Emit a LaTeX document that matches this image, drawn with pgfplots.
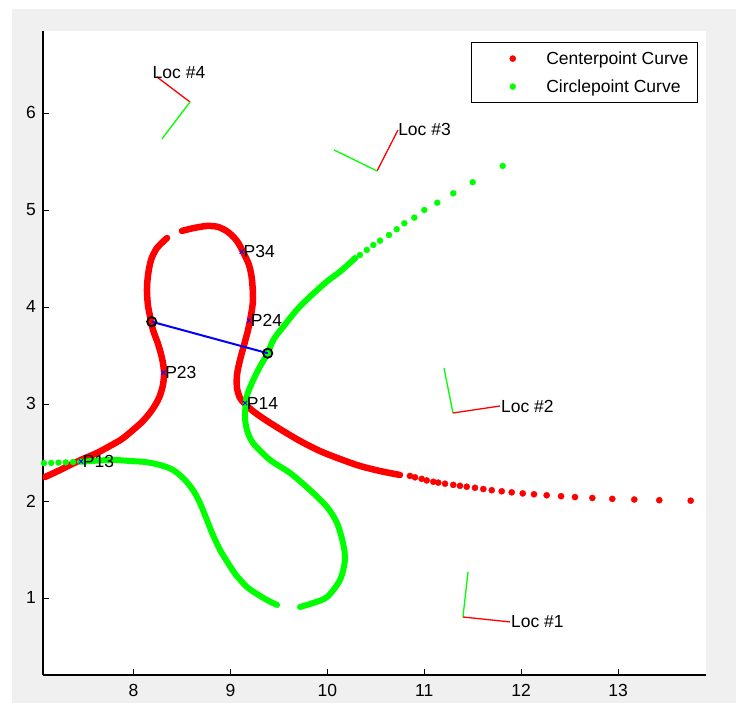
\documentclass[border=0pt]{standalone}
\usepackage{fontspec}
\setmainfont{Liberation Sans}
\usepackage{pgfplots}
\pgfplotsset{compat=1.18}
\definecolor{figgray}{HTML}{F0F0F0}
\newcommand\lbl{\fontsize{17.5bp}{20bp}\selectfont}
\begin{document}
\begin{tikzpicture}
\useasboundingbox (0bp,0bp) rectangle (736bp,703bp);
\fill[white] (0bp,0bp) rectangle (736bp,703bp);
\fill[figgray] (12bp,0bp) rectangle (736bp,694bp);
\begin{axis}[
  at={(43bp,28bp)}, anchor=south west,
  scale only axis, width=663bp, height=644bp,
  xmin=7.065, xmax=13.907, ymin=0.206, ymax=6.845,
  axis background/.style={fill=white},
  axis x line*=bottom, axis y line*=left,
  axis line style={black, line width=1.2bp},
  tick align=inside, major tick length=6bp,
  tick style={black, line width=0.9bp},
  xtick={8,9,10,11,12,13}, ytick={1,2,3,4,5,6},
  /pgf/number format/assume math mode=true,
  tick label style={font=\lbl},
  xticklabel style={inner sep=0pt, yshift=-9bp},
  yticklabel style={inner sep=0pt, xshift=-7bp},
  legend style={at={(0.9879,0.9829)}, anchor=north east, draw=black,
    line width=1.2bp, inner xsep=4.5bp, inner ysep=2bp, fill=white, font=\lbl,
    nodes={inner xsep=4.5bp, inner ysep=0pt, text height=20.25bp, text depth=7.75bp}},
  legend cell align=left,
  legend image code/.code={\path (0bp,0bp) (65bp,0bp); \draw[#1] plot coordinates {(36.5bp,0bp)};},
]
% Centerpoint curve (red) -- dense parts
\addplot[red, line width=6.5bp, smooth, tension=0.5, line cap=round, line join=round, forget plot] coordinates {
(7.086,2.247) (7.220,2.309) (7.344,2.371) (7.478,2.433) (7.622,2.495) (7.756,2.567) (7.880,2.639) (7.994,2.732) (8.097,2.825) (8.190,2.938) (8.262,3.062) (8.303,3.196) (8.314,3.330) (8.293,3.474) (8.252,3.619) (8.200,3.763) (8.180,3.856) (8.149,4.010) (8.138,4.175) (8.149,4.330) (8.180,4.485) (8.241,4.608) (8.345,4.711)};
\addplot[red, line width=6.5bp, smooth, tension=0.5, line cap=round, line join=round, forget plot] coordinates {
(8.499,4.784) (8.623,4.814) (8.757,4.835) (8.871,4.825) (8.974,4.773) (9.067,4.680) (9.129,4.567) (9.191,4.433) (9.222,4.278) (9.232,4.072) (9.212,3.918) (9.181,3.763) (9.140,3.608) (9.098,3.454) (9.067,3.299) (9.067,3.165) (9.098,3.062) (9.150,3.000) (9.243,2.918) (9.377,2.825) (9.542,2.722) (9.717,2.619) (9.923,2.515) (10.130,2.433) (10.336,2.361) (10.542,2.309) (10.749,2.268)};
% Centerpoint curve -- sparse tail
\addplot[only marks, mark=*, mark size=3.1bp, red, mark options={line width=0.3bp}] coordinates {
(10.852,2.258) (10.904,2.244) (10.973,2.228) (11.025,2.212) (11.093,2.198) (11.144,2.189) (11.214,2.178) (11.299,2.166) (11.368,2.156) (11.438,2.147) (11.523,2.136) (11.609,2.123) (11.696,2.111) (11.799,2.100) (11.902,2.089) (12.016,2.078) (12.132,2.069) (12.263,2.059) (12.411,2.049) (12.555,2.040) (12.734,2.031) (12.940,2.022) (13.167,2.015) (13.425,2.008) (13.749,2.003)};
\addlegendentry{Centerpoint Curve}
% Circlepoint curve (green) -- dense parts
\addplot[green, line width=6bp, smooth, tension=0.5, line cap=round, line join=round, forget plot] coordinates {
(10.285,4.502) (10.130,4.364) (9.993,4.261) (9.820,4.106) (9.683,3.969) (9.545,3.797) (9.442,3.660) (9.384,3.523) (9.304,3.385) (9.235,3.247) (9.167,3.075) (9.150,2.869) (9.170,2.732) (9.232,2.598) (9.408,2.423) (9.614,2.289) (9.820,2.113) (9.996,1.938) (10.099,1.773) (10.161,1.567) (10.181,1.392) (10.130,1.186) (9.996,1.010) (9.851,0.948) (9.717,0.907)};
\addplot[green, line width=6bp, smooth, tension=0.5, line cap=round, line join=round, forget plot] coordinates {
(9.480,0.928) (9.377,0.979) (9.274,1.041) (9.170,1.113) (9.057,1.237) (8.974,1.361) (8.892,1.495) (8.819,1.649) (8.757,1.804) (8.685,1.979) (8.613,2.113) (8.520,2.227) (8.407,2.320) (8.272,2.371) (8.118,2.402) (7.963,2.412) (7.808,2.423) (7.653,2.418) (7.498,2.407) (7.447,2.405)};
\addplot[only marks, mark=*, mark size=3bp, green, mark options={line width=0.3bp}, forget plot] coordinates {
(7.375,2.401) (7.300,2.398) (7.225,2.395) (7.150,2.392) (7.075,2.390)};
% Circlepoint curve -- sparse tail
\addplot[only marks, mark=*, mark size=3bp, green, mark options={line width=0.3bp}] coordinates {
(11.809,5.454) (11.499,5.286) (11.299,5.172) (11.134,5.075) (11.000,5.000) (10.897,4.921) (10.794,4.863) (10.715,4.801) (10.636,4.742) (10.543,4.684) (10.474,4.639) (10.406,4.588) (10.336,4.536) (10.285,4.502)};
\addlegendentry{Circlepoint Curve}
% Location frames
\addplot[red, line width=1.3bp, forget plot] coordinates {(8.241,6.371) (8.582,6.113)};
\addplot[green, line width=1.3bp, forget plot] coordinates {(8.582,6.113) (8.293,5.732)};
\addplot[red, line width=1.3bp, forget plot] coordinates {(10.512,5.402) (10.729,5.825)};
\addplot[green, line width=1.3bp, forget plot] coordinates {(10.512,5.402) (10.068,5.619)};
\addplot[green, line width=1.3bp, forget plot] coordinates {(11.203,3.371) (11.296,2.907)};
\addplot[red, line width=1.3bp, forget plot] coordinates {(11.296,2.907) (11.781,2.979)};
\addplot[green, line width=1.3bp, forget plot] coordinates {(11.451,1.268) (11.399,0.804)};
\addplot[red, line width=1.3bp, forget plot] coordinates {(11.399,0.804) (11.884,0.753)};
% Link
\addplot[blue, line width=2bp, forget plot] coordinates {(8.187,3.848) (9.384,3.523)};
\addplot[only marks, mark=o, mark size=4.6bp, mark options={black, line width=1.8bp}, forget plot] coordinates {(8.187,3.848) (9.384,3.523)};
% Poles
\addplot[only marks, mark=x, mark size=3bp, blue, mark options={line width=0.8bp}, forget plot] coordinates {
(7.457,2.407) (8.307,3.323) (9.116,4.570) (9.191,3.859) (9.150,3.010)};
\node[anchor=west, inner sep=0.5bp, font=\lbl] at (axis cs:7.470,2.407) {P13};
\node[anchor=west, inner sep=0.5bp, font=\lbl] at (axis cs:8.320,3.323) {P23};
\node[anchor=west, inner sep=0.5bp, font=\lbl] at (axis cs:9.129,4.570) {P34};
\node[anchor=west, inner sep=0.5bp, font=\lbl] at (axis cs:9.204,3.859) {P24};
\node[anchor=west, inner sep=0.5bp, font=\lbl] at (axis cs:9.163,3.010) {P14};
\node[anchor=west, inner sep=0.5bp, font=\lbl] at (axis cs:8.190,6.418) {Loc \#4};
\node[anchor=west, inner sep=0.5bp, font=\lbl] at (axis cs:10.724,5.825) {Loc \#3};
\node[anchor=west, inner sep=0.5bp, font=\lbl] at (axis cs:11.786,2.979) {Loc \#2};
\node[anchor=west, inner sep=0.5bp, font=\lbl] at (axis cs:11.889,0.753) {Loc \#1};
\end{axis}
\end{tikzpicture}
\end{document}
